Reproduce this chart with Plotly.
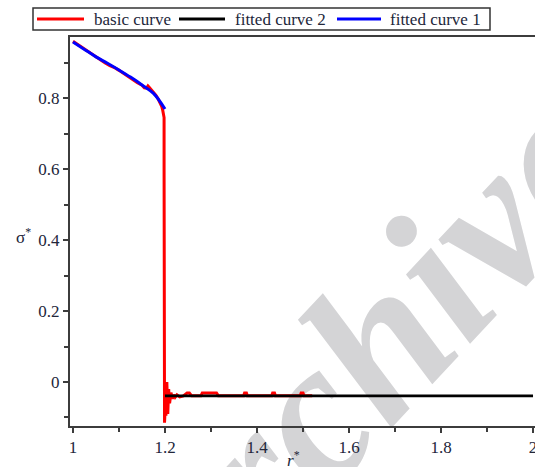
import plotly.graph_objects as go

# basic curve: measured stress ratio vs radius ratio
basic_x = [1.000, 1.010, 1.020, 1.030, 1.040, 1.050, 1.060, 1.070, 1.080, 1.090,
           1.100, 1.110, 1.120, 1.130, 1.140, 1.150, 1.155, 1.160, 1.163, 1.166,
           1.170, 1.175, 1.180, 1.185, 1.190, 1.193, 1.195, 1.197, 1.198, 1.198,
           1.198, 1.199, 1.199, 1.199, 1.2005, 1.202, 1.204, 1.206, 1.208, 1.210,
           1.213, 1.216, 1.219, 1.222, 1.226, 1.232, 1.240, 1.248, 1.253, 1.258,
           1.278, 1.281, 1.312, 1.316, 1.371, 1.373, 1.377, 1.379, 1.432, 1.434,
           1.438, 1.440, 1.494, 1.496, 1.500, 1.502, 1.520]
basic_y = [0.960, 0.951, 0.944, 0.934, 0.925, 0.916, 0.906, 0.899, 0.891, 0.886,
           0.878, 0.869, 0.860, 0.851, 0.843, 0.836, 0.829, 0.828, 0.834, 0.830,
           0.824, 0.818, 0.808, 0.798, 0.786, 0.776, 0.766, 0.755, 0.745, 0.600,
           0.370, 0.360, 0.000, -0.115, -0.070, -0.095, 0.000, -0.090, -0.020, -0.060,
           -0.030, -0.047, -0.036, -0.043, -0.036, -0.042, -0.039, -0.031, -0.031, -0.039,
           -0.039, -0.031, -0.031, -0.039, -0.039, -0.031, -0.031, -0.039, -0.039, -0.031,
           -0.031, -0.039, -0.039, -0.031, -0.031, -0.039, -0.039]

# fitted curve 2: residual plateau after the drop
fit2_x = [1.200, 2.000]
fit2_y = [-0.039, -0.039]

# fitted curve 1: pre-drop softening branch
fit1_x = [1.000, 1.025, 1.050, 1.075, 1.100, 1.125, 1.150, 1.175, 1.200]
fit1_y = [0.958, 0.937, 0.916, 0.898, 0.879, 0.859, 0.837, 0.813, 0.769]

x_ticks = [1.0, 1.2, 1.4, 1.6, 1.8, 2.0]
x_labels = ["1", "1.2", "1.4", "1.6", "1.8", "2"]
y_ticks = [0.0, 0.2, 0.4, 0.6, 0.8]
y_labels = ["0", "0.2", "0.4", "0.6", "0.8"]

serif = "Liberation Serif, Times New Roman, serif"
axis_col = "#3c3c3c"
text_col = "#22263a"

series = [
    dict(x=basic_x, y=basic_y, name="basic curve", color="#ff0000", width=3, shape="linear"),
    dict(x=fit2_x, y=fit2_y, name="fitted curve 2", color="#000000", width=2.6, shape="linear"),
    dict(x=fit1_x, y=fit1_y, name="fitted curve 1", color="#0000ff", width=3, shape="spline"),
]

fig = go.Figure()
for s in series:
    fig.add_trace(go.Scatter(x=s["x"], y=s["y"], mode="lines", name=s["name"],
                             line=dict(color=s["color"], width=s["width"], shape=s["shape"])))

W, H = 535, 467
L, R, T, B = 70, 0, 37, 41


def px(xp):
    return (xp - L) / (W - L - R)


def py(yp):
    return (H - B - yp) / (H - T - B)


fig.update_layout(
    width=W, height=H,
    margin=dict(l=L, r=R, t=T, b=B, pad=0),
    paper_bgcolor="white",
    plot_bgcolor="rgba(0,0,0,0)",
    font=dict(family=serif, size=17, color=text_col),
    showlegend=False,
    xaxis=dict(range=[0.9935, 2.0043], showgrid=False, zeroline=False,
               showline=True, linecolor=axis_col, linewidth=2, mirror=True,
               ticks="outside", ticklen=5, tickwidth=1.5, tickcolor=axis_col,
               tickvals=x_ticks, ticktext=x_labels, automargin=False,
               ticklabeloverflow="allow",
               minor=dict(dtick=0.1, tick0=1.0, ticks="outside", ticklen=4,
                          tickwidth=1.5, tickcolor=axis_col, showgrid=False)),
    yaxis=dict(range=[-0.124, 0.972], showgrid=False, zeroline=False,
               showline=True, linecolor=axis_col, linewidth=2, mirror=False,
               ticks="outside", ticklen=5, tickwidth=1.5, tickcolor=axis_col,
               tickvals=y_ticks, ticktext=y_labels, automargin=False,
               ticklabeloverflow="allow",
               minor=dict(dtick=0.1, tick0=0.0, ticks="outside", ticklen=4,
                          tickwidth=1.5, tickcolor=axis_col, showgrid=False)),
)

# legend box above the frame: sample line + label for each series
fig.add_shape(type="rect", xref="paper", yref="paper",
              x0=px(33), x1=px(490), y0=py(30), y1=py(8),
              line=dict(color="#333333", width=1.5), fillcolor="white", layer="above")
legend_slots = [(37, 84, 92), (179, 225, 233), (337, 381, 388)]
for s, (l0, l1, tx) in zip(series, legend_slots):
    fig.add_shape(type="line", xref="paper", yref="paper",
                  x0=px(l0), x1=px(l1), y0=py(19), y1=py(19),
                  line=dict(color=s["color"], width=3), layer="above")
    fig.add_annotation(x=px(tx), y=py(19.5), xref="paper", yref="paper",
                       xanchor="left", yanchor="middle", text=s["name"],
                       showarrow=False,
                       font=dict(family=serif, size=17, color=text_col))

# axis titles
fig.add_annotation(x=px(14), y=py(236), xref="paper", yref="paper",
                   text="σ<sup>*</sup>", showarrow=False,
                   font=dict(family=serif, size=17, color=text_col))
fig.add_annotation(x=px(293), y=py(472), xref="paper", yref="paper",
                   text="<i>r</i><sup>*</sup>", showarrow=False,
                   font=dict(family=serif, size=17, color=text_col))

# repository watermark, placed under the curves
cx, cy = 547, 127
fig.add_shape(type="rect", xref="paper", yref="paper",
              x0=px(cx - 1), x1=px(cx + 1), y0=py(cy + 1), y1=py(cy - 1),
              line=dict(width=0), fillcolor="rgba(0,0,0,0)", layer="below",
              label=dict(text="<b><i>Archive of SID</i></b>", textangle=-47,
                         textposition="middle center",
                         font=dict(family=serif, size=205, color="#d4d4d6")))

fig.write_html("out.html")
